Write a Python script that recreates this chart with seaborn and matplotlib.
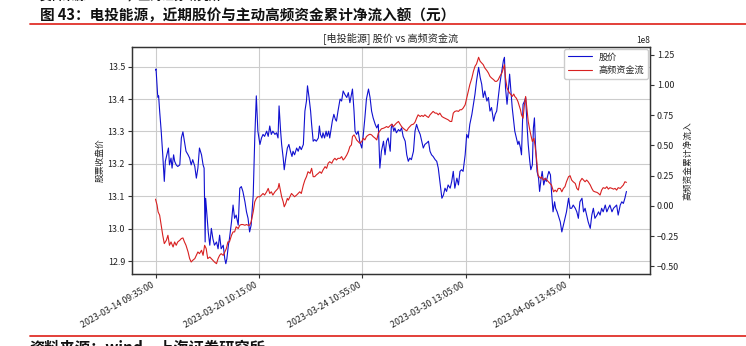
import matplotlib
matplotlib.use("Agg")
import matplotlib.pyplot as plt
import seaborn as sns
import pandas as pd
from matplotlib.lines import Line2D
from matplotlib.ticker import MultipleLocator

# ---------------- data (5-minute bar number -> value) ----------------
price_bar = [
    0, 1, 4, 5, 6, 8, 11, 14, 17, 19,
    22, 25, 27, 30, 32, 35, 37, 40, 43, 47,
    50, 53, 56, 59, 63, 66, 69, 72, 76, 79,
    82, 85, 89, 92, 94, 96, 97, 100, 102, 105,
    108, 111, 114, 118, 121, 124, 127, 131, 134, 136,
    138, 141, 143, 147, 150, 153, 156, 160, 163, 166,
    169, 173, 176, 179, 182, 185, 189, 192, 195, 198,
    202, 205, 208, 211, 215, 218, 221, 224, 227, 231,
    234, 237, 239, 242, 244, 247, 249, 252, 255, 258,
    261, 264, 266, 269, 273, 276, 279, 282, 286, 289,
    292, 294, 297, 300, 302, 305, 308, 311, 315, 317,
    319, 322, 324, 327, 330, 332, 335, 337, 340, 342,
    345, 348, 350, 353, 357, 360, 363, 366, 370, 373,
    376, 379, 381, 384, 386, 389, 392, 395, 399, 402,
    405, 408, 412, 415, 418, 421, 425, 428, 431, 434,
    437, 441, 444, 447, 450, 454, 456, 458, 461, 463,
    466, 470, 473, 476, 479, 483, 486, 489, 492, 495,
    499, 502, 505, 508, 512, 515, 518, 521, 525, 528,
    531, 534, 537, 541, 544, 547, 550, 554, 557, 560,
    563, 566, 570, 573, 576, 579, 583, 586, 589, 592,
    595, 599, 602, 605, 608, 612, 615, 618, 621, 625,
    628, 631, 634, 637, 641, 644, 647, 650, 654, 657,
    660, 663, 666, 670, 673, 675, 677, 680, 683, 685,
    688, 690, 693, 695, 698, 701, 703, 706, 708, 711,
    714, 716, 719, 721, 724, 726, 729, 731, 733, 735,
    738, 741, 743, 746, 748, 751, 754, 756, 759, 761,
    764, 766, 769, 772, 774, 777, 779, 783, 786, 789,
    792, 795, 799, 802, 805, 808, 812, 815, 818, 821,
    825, 828, 831, 834, 837, 841, 844, 847, 850, 854,
    857, 860, 863, 866, 870, 873, 876, 879, 883, 886,
    889, 892, 895, 899, 902, 905, 908, 911,
]
price = [
    13.490, 13.493, 13.415, 13.405, 13.410, 13.363, 13.301, 13.228, 13.146, 13.208,
    13.228, 13.249, 13.197, 13.218, 13.187, 13.228, 13.208, 13.197, 13.192, 13.197,
    13.280, 13.299, 13.270, 13.239, 13.228, 13.218, 13.197, 13.213, 13.192, 13.156,
    13.187, 13.249, 13.228, 13.197, 13.187, 12.959, 13.094, 13.032, 12.990, 12.949,
    13.001, 12.969, 12.949, 12.959, 12.938, 12.980, 12.938, 12.949, 12.907, 12.892,
    12.907, 12.949, 12.969, 13.021, 13.073, 13.032, 13.042, 13.011, 13.125, 13.130,
    13.115, 13.083, 13.052, 13.032, 12.990, 13.011, 13.104, 13.280, 13.410, 13.301,
    13.260, 13.280, 13.291, 13.285, 13.301, 13.285, 13.317, 13.291, 13.301, 13.291,
    13.296, 13.280, 13.379, 13.301, 13.260, 13.218, 13.182, 13.218, 13.249, 13.260,
    13.239, 13.223, 13.239, 13.228, 13.249, 13.239, 13.254, 13.244, 13.260, 13.363,
    13.394, 13.441, 13.405, 13.363, 13.322, 13.270, 13.275, 13.270, 13.280, 13.317,
    13.291, 13.280, 13.296, 13.280, 13.301, 13.285, 13.301, 13.280, 13.311, 13.332,
    13.353, 13.337, 13.332, 13.363, 13.400, 13.394, 13.425, 13.415, 13.405, 13.420,
    13.389, 13.415, 13.431, 13.363, 13.301, 13.291, 13.301, 13.270, 13.249, 13.291,
    13.342, 13.400, 13.431, 13.405, 13.363, 13.342, 13.322, 13.311, 13.322, 13.187,
    13.239, 13.270, 13.228, 13.270, 13.280, 13.239, 13.311, 13.322, 13.301, 13.311,
    13.296, 13.306, 13.301, 13.311, 13.285, 13.270, 13.228, 13.208, 13.218, 13.213,
    13.239, 13.301, 13.322, 13.306, 13.291, 13.270, 13.249, 13.260, 13.265, 13.270,
    13.239, 13.228, 13.223, 13.213, 13.208, 13.187, 13.146, 13.094, 13.104, 13.125,
    13.115, 13.135, 13.125, 13.146, 13.177, 13.125, 13.156, 13.135, 13.177, 13.182,
    13.177, 13.228, 13.291, 13.280, 13.322, 13.353, 13.384, 13.415, 13.456, 13.498,
    13.467, 13.446, 13.405, 13.425, 13.394, 13.405, 13.363, 13.374, 13.332, 13.353,
    13.363, 13.405, 13.446, 13.488, 13.519, 13.529, 13.436, 13.384, 13.436, 13.477,
    13.415, 13.374, 13.332, 13.301, 13.280, 13.260, 13.270, 13.249, 13.228, 13.384,
    13.394, 13.405, 13.311, 13.260, 13.208, 13.182, 13.197, 13.311, 13.342, 13.260,
    13.177, 13.156, 13.115, 13.156, 13.177, 13.135, 13.156, 13.146, 13.166, 13.177,
    13.166, 13.115, 13.052, 13.083, 13.063, 13.052, 13.042, 13.021, 12.990, 13.011,
    13.032, 13.052, 13.094, 13.063, 13.063, 13.073, 13.063, 13.052, 13.032, 13.083,
    13.094, 13.052, 13.063, 13.042, 13.021, 13.001, 13.042, 13.063, 13.032, 13.042,
    13.052, 13.042, 13.063, 13.052, 13.073, 13.052, 13.063, 13.073, 13.052, 13.063,
    13.068, 13.073, 13.042, 13.073, 13.083, 13.078, 13.094, 13.115,
]

flow_bar = [
    0, 3, 5, 8, 11, 14, 17, 21, 24, 27,
    30, 34, 37, 40, 43, 47, 50, 53, 56, 59,
    63, 66, 69, 72, 76, 79, 82, 85, 89, 92,
    95, 98, 101, 105, 108, 111, 114, 118, 121, 124,
    127, 131, 134, 137, 140, 143, 147, 150, 153, 156,
    160, 163, 166, 169, 173, 176, 179, 182, 185, 189,
    192, 195, 198, 202, 205, 208, 211, 215, 218, 221,
    224, 227, 231, 234, 237, 239, 242, 244, 247, 249,
    252, 255, 257, 260, 263, 266, 269, 273, 276, 279,
    282, 286, 289, 292, 295, 299, 302, 305, 308, 311,
    315, 318, 321, 324, 328, 331, 334, 337, 341, 344,
    347, 350, 353, 357, 360, 363, 366, 370, 373, 376,
    379, 381, 384, 386, 389, 392, 395, 399, 402, 405,
    408, 412, 415, 418, 421, 425, 428, 431, 434, 437,
    441, 444, 447, 450, 454, 457, 460, 463, 466, 470,
    473, 476, 479, 483, 486, 489, 492, 495, 499, 502,
    505, 508, 512, 515, 518, 521, 525, 528, 531, 534,
    537, 541, 544, 547, 550, 554, 557, 560, 563, 566,
    570, 573, 576, 579, 583, 586, 589, 592, 595, 599,
    602, 605, 608, 612, 615, 618, 621, 625, 628, 631,
    634, 637, 641, 644, 647, 650, 654, 657, 660, 663,
    666, 670, 673, 675, 677, 680, 683, 685, 688, 690,
    693, 695, 698, 701, 703, 706, 708, 711, 714, 716,
    719, 721, 724, 726, 729, 732, 734, 737, 740, 742,
    745, 747, 750, 754, 757, 760, 763, 766, 770, 773,
    776, 779, 783, 786, 789, 792, 795, 799, 802, 805,
    808, 812, 815, 818, 821, 825, 828, 831, 834, 837,
    841, 844, 847, 850, 854, 857, 860, 863, 866, 870,
    873, 876, 879, 883, 886, 889, 892, 895, 899, 902,
    905, 908, 911,
]
# cumulative net inflow, unit: 1e8 yuan
flow_1e8 = [
    0.055, 0.006, -0.050, -0.078, -0.161, -0.244, -0.313, -0.285, -0.244, -0.327,
    -0.299, -0.341, -0.299, -0.327, -0.299, -0.285, -0.271, -0.266, -0.299, -0.327,
    -0.382, -0.437, -0.465, -0.451, -0.437, -0.410, -0.382, -0.396, -0.368, -0.410,
    -0.327, -0.354, -0.437, -0.424, -0.437, -0.451, -0.465, -0.479, -0.437, -0.410,
    -0.396, -0.410, -0.382, -0.354, -0.299, -0.299, -0.244, -0.216, -0.216, -0.174,
    -0.188, -0.161, -0.155, -0.155, -0.161, -0.155, -0.161, -0.161, -0.133, -0.050,
    0.033, 0.061, 0.075, 0.075, 0.089, 0.102, 0.089, 0.116, 0.144, 0.102,
    0.116, 0.089, 0.116, 0.130, 0.144, 0.185, 0.116, 0.075, 0.033, -0.008,
    0.019, 0.061, 0.047, 0.075, 0.102, 0.089, 0.075, 0.089, 0.102, 0.116,
    0.102, 0.172, 0.213, 0.241, 0.282, 0.269, 0.310, 0.241, 0.241, 0.255,
    0.269, 0.282, 0.269, 0.296, 0.324, 0.310, 0.352, 0.365, 0.352, 0.379,
    0.393, 0.379, 0.393, 0.393, 0.407, 0.379, 0.393, 0.421, 0.449, 0.490,
    0.504, 0.573, 0.587, 0.573, 0.545, 0.532, 0.518, 0.532, 0.559, 0.545,
    0.573, 0.587, 0.592, 0.587, 0.573, 0.559, 0.545, 0.601, 0.620, 0.637,
    0.642, 0.648, 0.656, 0.648, 0.664, 0.676, 0.656, 0.670, 0.684, 0.698,
    0.676, 0.656, 0.642, 0.628, 0.620, 0.642, 0.656, 0.670, 0.676, 0.692,
    0.725, 0.753, 0.739, 0.748, 0.739, 0.753, 0.739, 0.731, 0.753, 0.767,
    0.781, 0.767, 0.767, 0.753, 0.767, 0.739, 0.731, 0.725, 0.720, 0.712,
    0.698, 0.698, 0.767, 0.781, 0.786, 0.781, 0.795, 0.795, 0.808, 0.836,
    0.891, 0.947, 1.002, 1.058, 1.113, 1.154, 1.174, 1.229, 1.196, 1.182,
    1.168, 1.141, 1.119, 1.099, 1.071, 1.058, 1.044, 1.030, 1.030, 1.044,
    1.071, 1.099, 1.141, 1.168, 1.058, 0.975, 0.947, 0.933, 0.919, 0.905,
    0.925, 0.905, 0.891, 0.864, 0.836, 0.795, 0.753, 0.725, 0.850, 0.905,
    0.781, 0.698, 0.628, 0.587, 0.532, 0.559, 0.504, 0.393, 0.255, 0.241,
    0.227, 0.241, 0.213, 0.227, 0.213, 0.199, 0.185, 0.172, 0.116, 0.130,
    0.116, 0.144, 0.144, 0.116, 0.144, 0.158, 0.199, 0.241, 0.249, 0.213,
    0.199, 0.185, 0.144, 0.130, 0.199, 0.227, 0.213, 0.199, 0.213, 0.199,
    0.172, 0.144, 0.122, 0.116, 0.111, 0.102, 0.089, 0.130, 0.150, 0.144,
    0.158, 0.138, 0.150, 0.144, 0.138, 0.144, 0.130, 0.150, 0.144, 0.158,
    0.172, 0.199, 0.194,
]

tick_bars = [0, 200, 400, 600, 800]
tick_labels = ["2023-03-14 09:35:00", "2023-03-20 10:15:00", "2023-03-24 10:55:00",
               "2023-03-30 13:05:00", "2023-04-06 13:45:00"]

fig_title = "图 43：电投能源，近期股价与主动高频资金累计净流入额（元）"
ax_title = "[电投能源] 股价 vs 高频资金流"
source_text = "资料来源：wind，上海证券研究所"
series_names = ["股价", "高频资金流"]

# ---------------- styling ----------------
sns.set_theme(style="whitegrid")
FONT = ['Noto Sans CJK SC', 'DejaVu Sans']
plt.rcParams['font.family'] = FONT
plt.rcParams['axes.unicode_minus'] = True

BLUE = "#1010d0"
RED = "#d82020"
SPINE = "#333333"
GRID = "#cccccc"
ACCENT = "#e0302a"

df_price = pd.DataFrame({"bar": price_bar, "price": price})
df_flow = pd.DataFrame({"bar": flow_bar, "flow": [v * 1e8 for v in flow_1e8]})

fig = plt.figure(figsize=(7.46, 3.46), dpi=100)
fig.patch.set_facecolor("white")
ax = fig.add_axes([0.1769, 0.2081, 0.6944, 0.6561])
ax.set_facecolor("white")

sns.lineplot(data=df_price, x="bar", y="price", ax=ax, color=BLUE,
             linewidth=0.8, estimator=None)
ax2 = ax.twinx()
sns.lineplot(data=df_flow, x="bar", y="flow", ax=ax2, color=RED,
             linewidth=0.8, estimator=None)

# grid
ax.grid(True, color=GRID, linewidth=0.8)
ax2.grid(False)
ax.set_axisbelow(True)

# x axis
ax.set_xticks(tick_bars)
ax.set_xticklabels(tick_labels, rotation=30, ha="right", fontsize=6.3)
ax.set_xlabel("")

# y axes
ax.yaxis.set_major_locator(MultipleLocator(0.1))
ax2.yaxis.set_major_locator(MultipleLocator(0.25e8))
ax.set_ylabel("股票收盘价", fontsize=6.3, labelpad=2)
ax2.set_ylabel("高频资金累计净流入", fontsize=6.3, labelpad=3)
ax.set_title(ax_title, fontsize=7.3, pad=4)

for a in (ax, ax2):
    for s in a.spines.values():
        s.set_color(SPINE)
        s.set_linewidth(0.9)
    a.tick_params(axis="both", length=3, width=0.8, color=SPINE,
                  labelsize=6.4, pad=2, labelcolor="#222222")
ax.tick_params(left=True, bottom=True)
ax2.tick_params(right=True)
ax2.yaxis.get_offset_text().set_fontsize(6)

# legend
handles = [ax.get_lines()[0], ax2.get_lines()[0]]
leg = ax2.legend(handles, series_names, loc="upper right", fontsize=6.6,
                 frameon=True, fancybox=True, edgecolor="#cccccc",
                 borderaxespad=0.2, handlelength=2.6, framealpha=1)

# page decorations
fig.text(40 / 746, 1 + 3 / 346, source_text, fontsize=8.5, fontweight="bold",
         va="center", ha="left", color="#111111")
fig.text(40 / 746, 1 - 15 / 346, fig_title, fontsize=10.5, fontweight="bold",
         va="center", ha="left", color="#111111")
fig.add_artist(Line2D([30 / 746, 1], [1 - 24 / 346] * 2, transform=fig.transFigure,
                      color=ACCENT, linewidth=1.3))
fig.add_artist(Line2D([30 / 746, 1], [1 - 336 / 346] * 2, transform=fig.transFigure,
                      color=ACCENT, linewidth=1.3))
fig.text(30 / 746, -1.5 / 346, source_text, fontsize=11, fontweight="bold",
         va="center", ha="left", color="#111111")

fig.savefig("out.png", dpi=100)
